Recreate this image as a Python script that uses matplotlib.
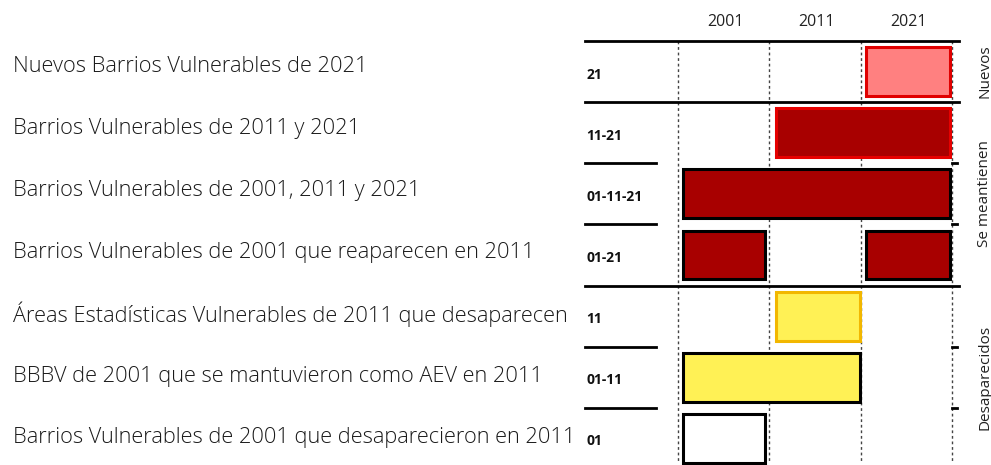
"""Matriz de barrios vulnerables 2001-2011-2021."""
import matplotlib.pyplot as plt
from matplotlib import font_manager

# Data
years = ["2001", "2011", "2021"]
row_codes = ["21", "11-21", "01-11-21", "01-21", "11", "01-11", "01"]
descriptions = [
    "Nuevos Barrios Vulnerables de 2021",
    "Barrios Vulnerables de 2011 y 2021",
    "Barrios Vulnerables de 2001, 2011 y 2021",
    "Barrios Vulnerables de 2001 que reaparecen en 2011",
    "Áreas Estadísticas Vulnerables de 2011 que desaparecen",
    "BBBV de 2001 que se mantuvieron como AEV en 2011",
    "Barrios Vulnerables de 2001 que desaparecieron en 2011",
]
# bar segments per row, in column units (0 = 2001 start, 3 = 2021 end)
segments = [
    [(2.06, 2.98)],
    [(1.07, 2.98)],
    [(0.06, 2.98)],
    [(0.06, 0.95), (2.06, 2.98)],
    [(1.07, 1.99)],
    [(0.06, 1.99)],
    [(0.06, 0.95)],
]
fill_colors = ["#FF8080", "#A80000", "#A80000", "#A80000", "#FFF155", "#FFF155", "#FFFFFF"]
edge_colors = ["#E00000", "#E60000", "#000000", "#000000", "#F2B700", "#000000", "#000000"]
groups = ["Nuevos", "Se meantienen", "Desaparecidos"]
group_rows = [(0, 1), (1, 4), (4, 7)]

names = {f.name for f in font_manager.fontManager.ttflist}
font = "Open Sans" if "Open Sans" in names else "DejaVu Sans"
plt.rcParams["font.family"] = [font, "DejaVu Sans"]

W, H = 991, 465
fig = plt.figure(figsize=(W / 100, H / 100), dpi=100)
left, right, top, bottom = 678, 952, 41, 469
ax = fig.add_axes([left / W, 1 - bottom / H, (right - left) / W, (bottom - top) / H])
ax.set_xlim(0, 3)
ax.set_ylim(7, 0)
ax.axis("off")

# dotted column lines
for x in range(4):
    ax.plot([x, x], [0, 6.88], color="#444444", lw=1, ls=(0, (2, 2)), clip_on=False, zorder=1)

# bars
for i, segs in enumerate(segments):
    for s, e in segs:
        ax.barh(i + 0.5, e - s, left=s, height=0.8, color=fill_colors[i],
                edgecolor=edge_colors[i], linewidth=2.2, zorder=3, clip_on=False)

# row separators
for r in range(7):
    if r in (0, 1, 4):
        ax.plot([-1.02, 3.08], [r, r], color="black", lw=2, clip_on=False, zorder=2)
    else:
        ax.plot([-1.02, -0.24], [r, r], color="black", lw=2, clip_on=False, zorder=2)
        ax.plot([3.0, 3.06], [r, r], color="black", lw=2, clip_on=False, zorder=2)

# headers
for j, y in enumerate(years):
    ax.text(j + 0.52, -0.31, y, ha="center", va="center", fontsize=11.5, color="#222222")

# row labels
for i in range(7):
    ax.text(-1.0, i + 0.55, row_codes[i], ha="left", va="center", fontsize=10,
            fontweight="bold", color="#111111")
    fig.text(13 / W, 1 - (67 + i * 61.8) / H, descriptions[i], ha="left",
             va="center", fontsize=15.7, fontweight="light", color="#1a1a1a")

# group labels
for g, (a, b) in zip(groups, group_rows):
    ax.text(3.36, (a + b) / 2, g, rotation=90, ha="center", va="center", fontsize=11,
            color="#222222")

fig.savefig("out.png", dpi=100)
